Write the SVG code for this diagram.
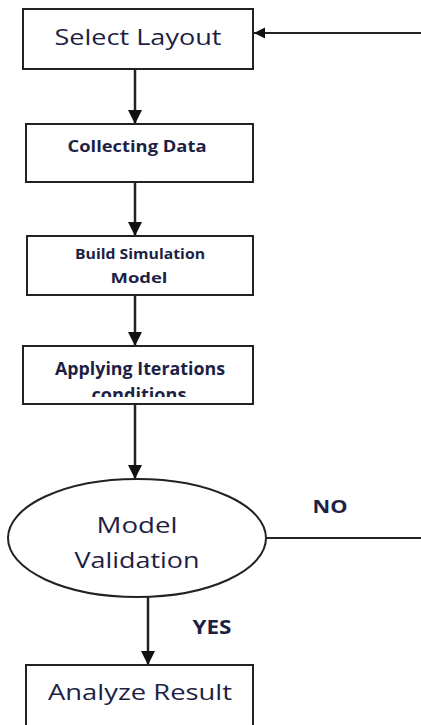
<svg xmlns="http://www.w3.org/2000/svg" width="421" height="725" viewBox="0 0 421 725">
<style>
.box{fill:#fff;stroke:#222;stroke-width:2}
.t{font-family:"Open Sans","Liberation Sans",sans-serif;fill:#1e1f45;text-anchor:middle;font-weight:500}
.b{font-weight:bold}
.c{stroke:#222;stroke-width:2.5;fill:none}
.h{stroke:#222;stroke-width:2;fill:none}
</style>
<defs>
<marker id="ah" viewBox="0 0 10 10" refX="10" refY="5" markerWidth="5.6" markerHeight="5.6" markerUnits="strokeWidth" orient="auto">
<path d="M0,0 L10,5 L0,10 Z" fill="#111"/>
</marker>
<clipPath id="clip4"><rect x="23" y="346" width="230" height="51"/></clipPath>
</defs>
<rect width="421" height="725" fill="#fff"/>
<g id="connectors">
<line class="c" x1="135" y1="69" x2="135" y2="124" marker-end="url(#ah)"/>
<line class="c" x1="135" y1="182" x2="135" y2="236" marker-end="url(#ah)"/>
<line class="c" x1="135" y1="295" x2="135" y2="346" marker-end="url(#ah)"/>
<line class="c" x1="135" y1="404" x2="135" y2="479" marker-end="url(#ah)"/>
<line class="c" x1="148" y1="597" x2="148" y2="665" marker-end="url(#ah)"/>
<line class="h" x1="266" y1="538" x2="421" y2="538"/>
<line class="h" x1="421" y1="33" x2="254" y2="33" marker-end="url(#ah)"/>
<text class="t b" x="330" y="513" font-size="18" textLength="35" lengthAdjust="spacingAndGlyphs">NO</text>
<text class="t b" x="212" y="634" font-size="19" textLength="39" lengthAdjust="spacingAndGlyphs">YES</text>
</g>
<g id="select-layout">
<rect class="box" x="23" y="9" width="230" height="60"/>
<text class="t" x="138" y="45" font-size="21" textLength="167" lengthAdjust="spacingAndGlyphs">Select Layout</text>
</g>
<g id="collecting-data">
<rect class="box" x="26" y="124" width="227" height="58"/>
<text class="t b" x="137" y="152" font-size="16" textLength="139" lengthAdjust="spacingAndGlyphs">Collecting Data</text>
</g>
<g id="build-simulation">
<rect class="box" x="27" y="236" width="226" height="59"/>
<text class="t b" x="140" y="259" font-size="14" textLength="130" lengthAdjust="spacingAndGlyphs">Build Simulation</text>
<text class="t b" x="139" y="283" font-size="14" textLength="57" lengthAdjust="spacingAndGlyphs">Model</text>
</g>
<g id="applying-iterations">
<rect class="box" x="23" y="346" width="230" height="58"/>
<text class="t b" x="140" y="375" font-size="17" textLength="170" lengthAdjust="spacingAndGlyphs">Applying Iterations</text>
<text class="t b" x="139" y="401" font-size="17" textLength="95" lengthAdjust="spacingAndGlyphs" clip-path="url(#clip4)">conditions</text>
</g>
<g id="model-validation">
<ellipse class="box" cx="137" cy="538" rx="129" ry="59"/>
<text class="t" x="137" y="533" font-size="22" textLength="81" lengthAdjust="spacingAndGlyphs">Model</text>
<text class="t" x="137" y="568" font-size="22" textLength="125" lengthAdjust="spacingAndGlyphs">Validation</text>
</g>
<g id="analyze-result">
<rect class="box" x="26" y="665" width="227" height="70"/>
<text class="t" x="140" y="700" font-size="22" textLength="184" lengthAdjust="spacingAndGlyphs">Analyze Result</text>
</g>
</svg>
